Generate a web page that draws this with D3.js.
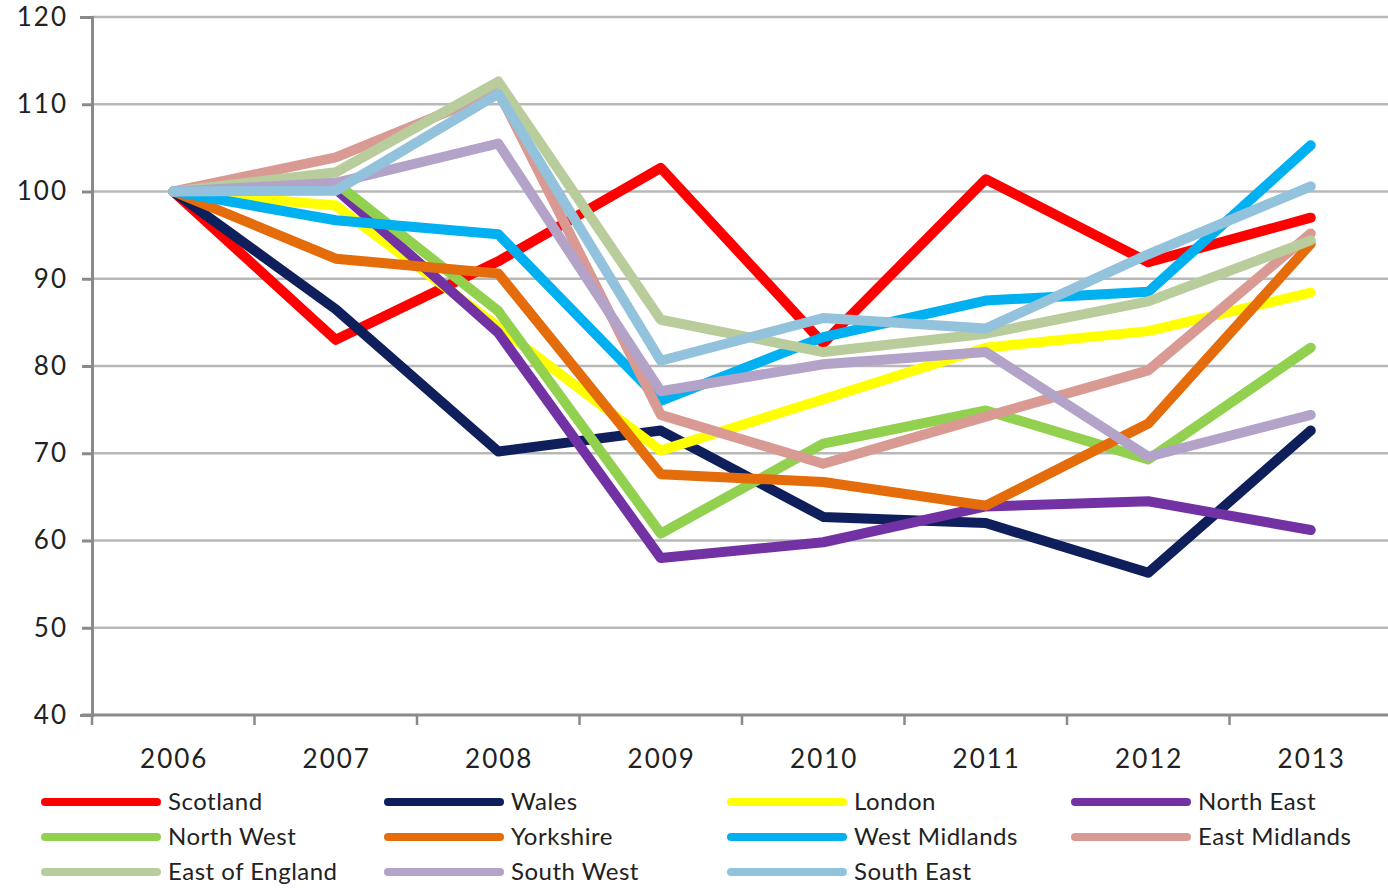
<!DOCTYPE html>
<html>
<head>
<meta charset="utf-8">
<script src="https://cdn.jsdelivr.net/npm/d3@7"></script>
<style>
  body { margin: 0; background: #fff; }
  svg { display: block; font-family: Lato, "Open Sans", sans-serif; }
  .tick text { fill: #222; }
</style>
</head>
<body>
<svg width="1388" height="888"></svg>
<script>
const years = ['2006', '2007', '2008', '2009', '2010', '2011', '2012', '2013'];
const yTicks = [40, 50, 60, 70, 80, 90, 100, 110, 120];

const scotland = [100, 83, 92, 102.7, 82.6, 101.4, 91.9, 97];
const wales = [100, 86.5, 70.2, 72.6, 62.7, 62, 56.3, 72.6];
const london = [100, 98.4, 84.5, 70.3, 76.2, 82.1, 84, 88.4];
const northEast = [100, 100.3, 83.8, 58, 59.8, 63.9, 64.5, 61.2];
const northWest = [100, 101, 86.3, 60.8, 71.1, 74.9, 69.3, 82.1];
const yorkshire = [100, 92.3, 90.6, 67.6, 66.7, 64, 73.4, 94];
const westMidlands = [100, 96.7, 95.1, 76, 83.3, 87.5, 88.5, 105.3];
const eastMidlands = [100, 103.9, 111.5, 74.4, 68.8, 74.2, 79.5, 95.2];
const eastOfEngland = [100, 102.2, 112.6, 85.3, 81.6, 83.7, 87.4, 94.4];
const southWest = [100, 101, 105.5, 77.1, 80.2, 81.6, 69.6, 74.4];
const southEast = [100, 100.1, 111.2, 80.6, 85.5, 84.3, 92.8, 100.6];

const series = [
  { name: 'Scotland', values: scotland, color: '#ff0000' },
  { name: 'Wales', values: wales, color: '#0f1f5c' },
  { name: 'London', values: london, color: '#ffff00' },
  { name: 'North East', values: northEast, color: '#7232a4' },
  { name: 'North West', values: northWest, color: '#92d050' },
  { name: 'Yorkshire', values: yorkshire, color: '#e46c0a' },
  { name: 'West Midlands', values: westMidlands, color: '#00b0f0' },
  { name: 'East Midlands', values: eastMidlands, color: '#d99a94' },
  { name: 'East of England', values: eastOfEngland, color: '#b9cc9c' },
  { name: 'South West', values: southWest, color: '#b3a3c8' },
  { name: 'South East', values: southEast, color: '#93c2dc' }
];

const margin = { top: 17, left: 92, right: -4, bottom: 173 };
const width = 1388 - margin.left - margin.right;
const height = 888 - margin.top - margin.bottom;

const svg = d3.select('svg')
  .append('g')
  .attr('transform', `translate(${margin.left}, ${margin.top})`);

const x = d3.scaleBand().domain(years).range([0, width]).padding(0);
const y = d3.scaleLinear().domain([40, 120]).range([height, 0]);
const cx = d => x(d) + x.bandwidth() / 2;

// gridlines
svg.selectAll('.grid')
  .data(yTicks.slice(1))
  .enter()
  .append('line')
  .attr('x1', 0)
  .attr('x2', width)
  .attr('y1', d => y(d))
  .attr('y2', d => y(d))
  .attr('stroke', '#b8b8b8')
  .attr('stroke-width', 2.5);

// y axis
const yAxis = svg.append('g')
  .call(d3.axisLeft(y).tickValues(yTicks).tickSize(12).tickPadding(12));
yAxis.select('.domain').attr('stroke', '#8a8a8a').attr('stroke-width', 3);
yAxis.selectAll('.tick line').attr('stroke', '#8a8a8a').attr('stroke-width', 3).attr('x2', -10);
yAxis.selectAll('.tick text')
  .attr('font-size', 26)
  .attr('letter-spacing', '2px')
  .attr('font-family', 'Lato, sans-serif');

// x axis with ticks on band edges
const xAxis = svg.append('g')
  .attr('transform', `translate(0, ${height})`);
xAxis.append('line')
  .attr('x1', -10).attr('x2', width)
  .attr('stroke', '#8a8a8a').attr('stroke-width', 3);
xAxis.selectAll('.xtick')
  .data(years)
  .enter()
  .append('line')
  .attr('x1', d => x(d))
  .attr('x2', d => x(d))
  .attr('y1', 0)
  .attr('y2', 10)
  .attr('stroke', '#8a8a8a')
  .attr('stroke-width', 2.5);
xAxis.selectAll('.xlabel')
  .data(years)
  .enter()
  .append('text')
  .attr('x', d => cx(d) + 1)
  .attr('y', 53)
  .attr('text-anchor', 'middle')
  .attr('font-size', 26)
  .attr('letter-spacing', '2px')
  .attr('fill', '#222')
  .text(d => d);

// lines
const line = d3.line()
  .x((d, i) => cx(years[i]))
  .y(d => y(d));

svg.selectAll('.series')
  .data(series)
  .enter()
  .append('path')
  .attr('d', d => line(d.values))
  .attr('fill', 'none')
  .attr('stroke', d => d.color)
  .attr('stroke-width', 10)
  .attr('stroke-linejoin', 'round')
  .attr('stroke-linecap', 'round');

// legend
const legendCols = [45, 388, 731, 1075];
const legendRows = [802, 837, 872];
const legend = d3.select('svg').append('g');

const items = legend.selectAll('.item')
  .data(series)
  .enter()
  .append('g')
  .attr('transform', (d, i) => `translate(${legendCols[i % 4]}, ${legendRows[Math.floor(i / 4)]})`);

items.append('line')
  .attr('x1', 0)
  .attr('x2', 112)
  .attr('stroke', d => d.color)
  .attr('stroke-width', 8)
  .attr('stroke-linecap', 'round');

items.append('text')
  .attr('x', 123)
  .attr('dy', '0.35em')
  .attr('font-size', 24)
  .attr('letter-spacing', '0.5px')
  .attr('fill', '#222')
  .text(d => d.name);
</script>
</body>
</html>
